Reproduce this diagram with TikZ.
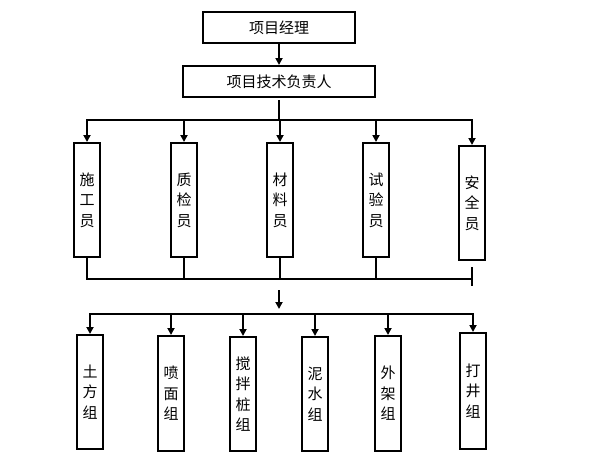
\documentclass[tikz,border=0pt]{standalone}
\usepackage{fontspec}
\newfontfamily\cjk{Noto Sans CJK SC}
\usetikzlibrary{arrows.meta}
\begin{document}
\begin{tikzpicture}[x=1pt,y=-1pt,
  box/.style={draw,line width=2pt,inner sep=0pt,font=\cjk\fontsize{15}{20.5}\selectfont,align=center},
  hbox/.style={box,minimum height=31pt},
  vbox/.style={box,minimum width=26pt},
  ln/.style={line width=2pt},
  arr/.style={ln,-{Triangle[length=7pt,width=7pt]}}]
\useasboundingbox (0,0) rectangle (594,458);
\node[hbox,minimum width=152pt] (pm) at (279,27.5) {项目经理};
\node[hbox,minimum width=192pt] (tech) at (279,81.5) {项目技术负责人};
% row 1
\node[vbox,minimum height=114pt] (a1) at (87,200) {施\\工\\员};
\node[vbox,minimum height=114pt] (a2) at (184,200) {质\\检\\员};
\node[vbox,minimum height=114pt] (a3) at (280,200) {材\\料\\员};
\node[vbox,minimum height=114pt] (a4) at (376,200) {试\\验\\员};
\node[vbox,minimum height=114pt] (a5) at (472,203) {安\\全\\员};
% row 2
\node[vbox,minimum height=114pt] (b1) at (90,392) {土\\方\\组};
\node[vbox,minimum height=115pt] (b2) at (171,393.5) {喷\\面\\组};
\node[vbox,minimum height=114pt] (b3) at (243,394) {搅\\拌\\桩\\组};
\node[vbox,minimum height=114pt] (b4) at (315,394) {泥\\水\\组};
\node[vbox,minimum height=115pt] (b5) at (388,393.5) {外\\架\\组};
\node[vbox,minimum height=116pt] (b6) at (473,391) {打\\井\\组};
% coordinates
\coordinate (t1) at (279,100);
\coordinate (bus1) at (279,120);
\coordinate (bus1l) at (87,120);
\coordinate (bus1r) at (472,120);
\coordinate (bus2l) at (87,279);
\coordinate (bus2r) at (472,279);
\coordinate (tickt) at (472,267);
\coordinate (tickb) at (472,286);
\coordinate (m1) at (279,290);
\coordinate (m2) at (279,309);
\coordinate (bus3l) at (90,314);
\coordinate (bus3r) at (473,314);
% connectors
\draw[arr] (pm) -- (tech);
\draw[ln] (t1) -- (bus1);
\draw[ln] ([xshift=-1pt]bus1l) -- ([xshift=1pt]bus1r);
\foreach \n in {a1,a2,a3,a4,a5}
  \draw[arr] (bus1 -| \n.north) -- (\n.north);
\foreach \n in {a1,a2,a3,a4}
  \draw[ln] (\n.south) -- (bus2l -| \n.south);
\draw[ln] ([xshift=-1pt]bus2l) -- (bus2r);
\draw[ln] (tickt) -- (tickb);
\draw[arr] (m1) -- (m2);
\draw[ln] ([xshift=-1pt]bus3l) -- ([xshift=1pt]bus3r);
\foreach \n in {b1,b2,b3,b4,b5,b6}
  \draw[arr] (bus3l -| \n.north) -- (\n.north);
\end{tikzpicture}
\end{document}
